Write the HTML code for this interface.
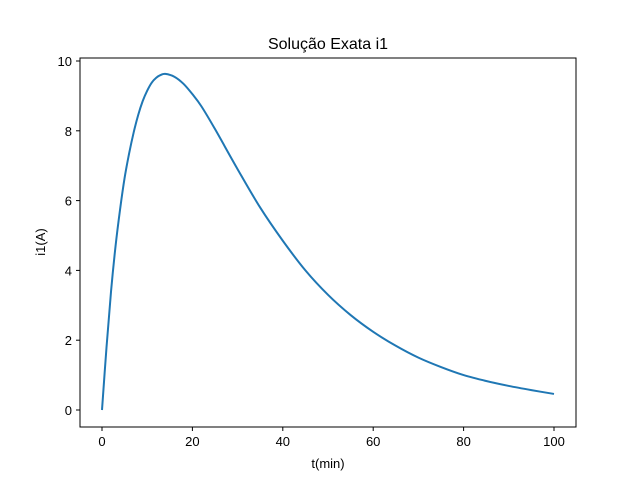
<!DOCTYPE html>
<html><head><meta charset="utf-8"><style>
body{margin:0;background:#fff;}
svg{font-family:"Liberation Sans","DejaVu Sans",sans-serif;}
</style></head><body>
<svg id="chart" width="640" height="480">
<rect width="640" height="480" fill="#fff"/>
<text x="328" y="49" font-size="16" text-anchor="middle">Solução Exata i1</text>
<g id="axes"></g>
<path id="line" fill="none" stroke="#1f77b4" stroke-width="2"/>
<rect x="80" y="58" width="496" height="369" fill="none" stroke="#000" stroke-width="1"/>
<text x="328" y="468" font-size="13" text-anchor="middle">t(min)</text>
<text transform="translate(45,242) rotate(-90)" font-size="13" text-anchor="middle">i1(A)</text>
</svg>
<script>
const tValues=[0,1,2,3,4,5,6,7,8,9,10,11,12,13,14,16,18,20,22,25,30,35,40,45,50,55,60,65,70,75,80,85,90,95,100];
const iValues=[0,1.8,3.4,4.7,5.75,6.65,7.35,7.95,8.45,8.85,9.15,9.38,9.52,9.6,9.63,9.55,9.35,9.05,8.7,8.05,6.9,5.8,4.85,4.0,3.3,2.72,2.24,1.84,1.5,1.23,1.0,0.83,0.69,0.57,0.46];
const xTicks=[0,20,40,60,80,100];
const yTicks=[0,2,4,6,8,10];
const xs=t=>102+t*4.52;
const ys=v=>410-v*34.9;
const ns="http://www.w3.org/2000/svg";
const ax=document.getElementById('axes');
xTicks.forEach(t=>{
  const l=document.createElementNS(ns,'line');
  l.setAttribute('x1',xs(t));l.setAttribute('x2',xs(t));l.setAttribute('y1',427);l.setAttribute('y2',431);l.setAttribute('stroke','#000');
  
  
  ax.appendChild(l);
  const tx=document.createElementNS(ns,'text');
  tx.setAttribute('x',xs(t));tx.setAttribute('y',446);tx.setAttribute('font-size','13');tx.setAttribute('text-anchor','middle');
  tx.textContent=t;
  
  
  ax.appendChild(tx);
});
yTicks.forEach(v=>{
  const l=document.createElementNS(ns,'line');
  l.setAttribute('x1',76);l.setAttribute('x2',80);l.setAttribute('y1',ys(v));l.setAttribute('y2',ys(v));l.setAttribute('stroke','#000');
  
  
  ax.appendChild(l);
  const tx=document.createElementNS(ns,'text');
  tx.setAttribute('x',72);tx.setAttribute('y',ys(v)+5);tx.setAttribute('font-size','13');tx.setAttribute('text-anchor','end');
  tx.textContent=v;
  
  
  ax.appendChild(tx);
});
const P=tValues.map((t,i)=>[xs(t),ys(iValues[i])]);
let d='M'+P[0][0]+','+P[0][1];
for(let i=0;i<P.length-1;i++){
  const p0=P[Math.max(i-1,0)],p1=P[i],p2=P[i+1],p3=P[Math.min(i+2,P.length-1)];
  const c1=[p1[0]+(p2[0]-p0[0])/6,p1[1]+(p2[1]-p0[1])/6];
  const c2=[p2[0]-(p3[0]-p1[0])/6,p2[1]-(p3[1]-p1[1])/6];
  d+=' C'+c1+' '+c2+' '+p2;
}
document.getElementById('line').setAttribute('d',d);
</script>
</body></html>
